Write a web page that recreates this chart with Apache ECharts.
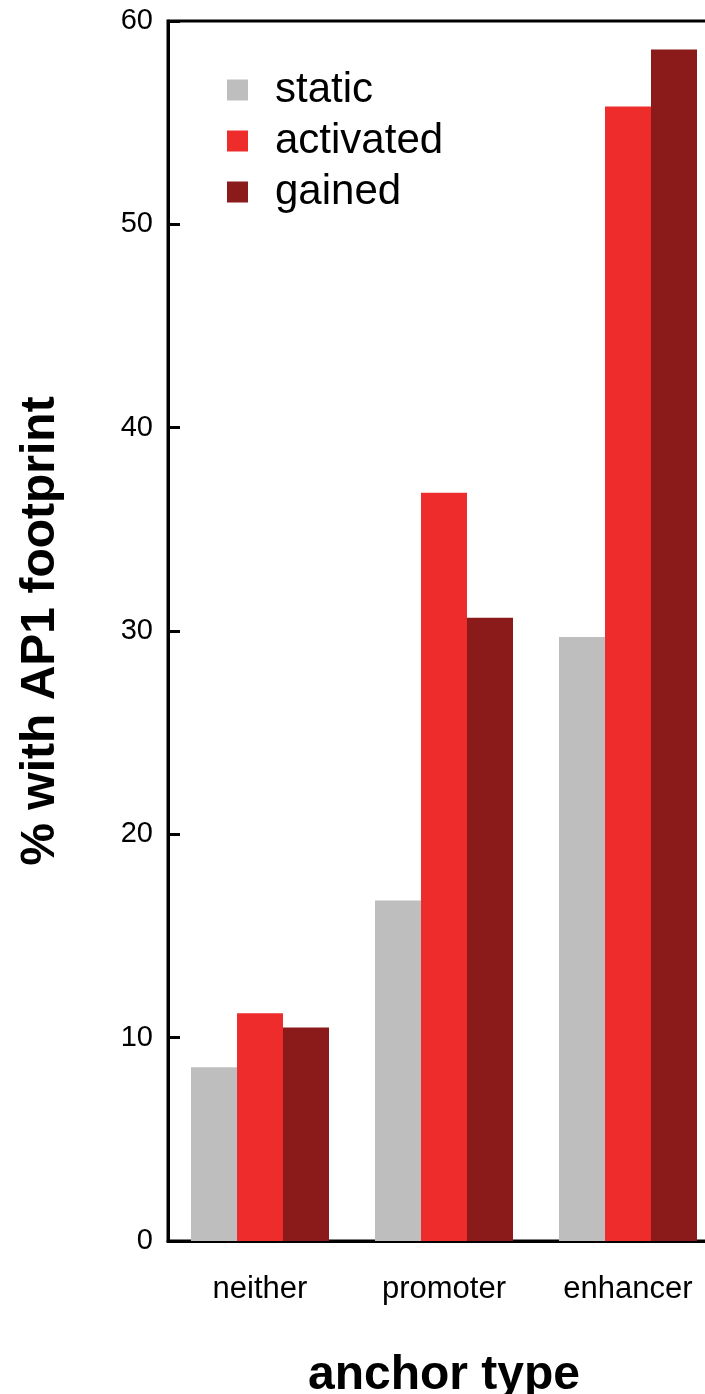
<!DOCTYPE html>
<html><head><meta charset="utf-8">
<script src="https://cdn.jsdelivr.net/npm/echarts@6/dist/echarts.min.js"></script>
<style>html,body{margin:0;padding:0;background:#fff}#c{width:705px;height:1394px}</style>
</head><body><div id="c"></div>
<script>
const categories = ['neither', 'promoter', 'enhancer'];
const seriesNames = ['static', 'activated', 'gained'];
const staticVals = [8.55, 16.75, 29.7];
const activatedVals = [11.2, 36.8, 55.8];
const gainedVals = [10.5, 30.65, 58.6];
const yTicks = [0, 10, 20, 30, 40, 50, 60];
const colors = ['#BEBEBE', '#EE2C2C', '#8B1A1A'];

const font = '"Liberation Sans", Arial, Helvetica, sans-serif';
const chart = echarts.init(document.getElementById('c'));
chart.setOption({
  animation: false,
  backgroundColor: '#fff',
  textStyle: { fontFamily: font },
  grid: { left: 168, top: 21, width: 552, height: 1220, show: true, borderColor: '#000', borderWidth: 3, containLabel: false, outerBoundsMode: 'none' },
  legend: {
    left: 222, top: 63, orient: 'vertical',
    itemWidth: 21, itemHeight: 21, itemGap: 7,
    icon: 'rect',
    textStyle: { fontSize: 42, fontFamily: font, color: '#000', padding: [0, 0, 0, 22], lineHeight: 44 },
    data: seriesNames
  },
  xAxis: {
    type: 'category', data: categories,
    axisLine: { show: true, lineStyle: { color: '#000', width: 3 } },
    axisTick: { show: false },
    axisLabel: { fontSize: 31, color: '#000', margin: 33, fontFamily: font },
    name: 'anchor type', nameLocation: 'middle', nameGap: 111,
    nameTextStyle: { fontSize: 48, fontWeight: 'bold', color: '#000', fontFamily: font }
  },
  yAxis: {
    type: 'value', min: yTicks[0], max: yTicks[yTicks.length - 1], interval: 10,
    splitLine: { show: false },
    axisLine: { show: true, lineStyle: { color: '#000', width: 3 } },
    axisTick: { show: true, inside: true, length: 12, lineStyle: { color: '#000', width: 3 } },
    axisLabel: { fontSize: 29, color: '#000', margin: 15, fontFamily: font },
    name: '% with AP1 footprint', nameLocation: 'middle', nameGap: 103,
    nameTextStyle: { fontSize: 48, fontWeight: 'bold', color: '#000', fontFamily: font }
  },
  series: [
    { name: seriesNames[0], type: 'bar', data: staticVals, itemStyle: { color: colors[0] }, barGap: '0%', barCategoryGap: '25%' },
    { name: seriesNames[1], type: 'bar', data: activatedVals, itemStyle: { color: colors[1] }, barGap: '0%', barCategoryGap: '25%' },
    { name: seriesNames[2], type: 'bar', data: gainedVals, itemStyle: { color: colors[2] }, barGap: '0%', barCategoryGap: '25%' }
  ]
});
</script></body></html>
